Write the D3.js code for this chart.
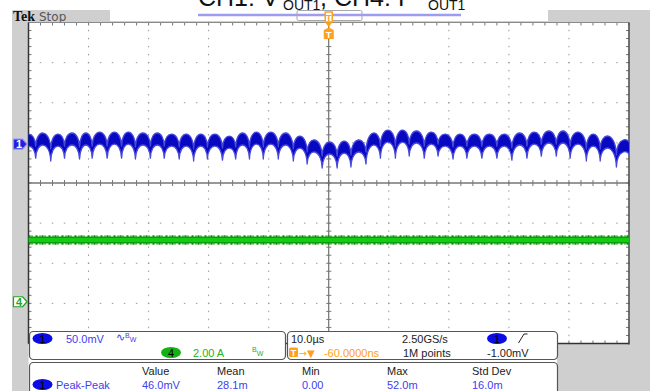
<!DOCTYPE html>
<html>
<head>
<meta charset="utf-8">
<script src="https://cdn.jsdelivr.net/npm/d3@7"></script>
<style>
  html, body { margin: 0; padding: 0; background: #fff; }
  svg { display: block; }
</style>
</head>
<body>
<svg id="scope" width="650" height="391"></svg>
<script>
// ---- Channel 1 (output voltage ripple, mV) ----
// Times of the sharp ripple dips (µs, trigger at 0) and the level at each dip.
const ch1DipTimes = [-51.2, -48.8, -46.3, -44.0, -41.5, -39.4, -36.9, -34.5, -32.2, -29.7,
  -27.4, -24.9, -22.5, -20.2, -17.7, -15.5, -13.2, -10.9, -8.4, -5.9,
  -3.6, -1.1, 1.4, 3.7, 6.2, 8.6, 11.1, 13.4, 15.9, 18.2,
  20.7, 23.0, 25.5, 28.0, 30.5, 33.0, 35.4, 37.9, 40.2, 42.9,
  45.2, 47.9, 50.2];
const ch1DipLevels = [-11.2, -10.0, -13.7, -10.0, -11.2, -10.0, -10.0, -10.0, -11.2, -10.0,
  -10.0, -11.2, -13.7, -11.2, -12.5, -11.2, -11.2, -11.2, -11.2, -13.7,
  -17.4, -22.4, -22.4, -21.2, -17.4, -10.0, -10.0, -7.5, -10.0, -7.5,
  -11.2, -10.0, -10.0, -10.0, -12.5, -10.0, -7.5, -7.5, -10.0, -13.7,
  -13.7, -21.2, -10.0];
// Crest level of each hump between two consecutive dips (mV).
const ch1CrestLevels = [5.0, 6.3, 5.0, 6.3, 6.3, 7.5, 7.5, 7.5, 6.3, 6.3,
  5.0, 5.0, 5.0, 5.0, 2.5, 6.3, 7.5, 7.5, 6.3, 2.5,
  -2.4, -4.9, -3.7, -2.4, 6.3, 10.0, 10.0, 8.8, 7.5, 5.0,
  5.0, 5.0, 5.0, 5.0, 6.3, 7.5, 8.8, 8.8, 7.5, 5.0,
  2.5, -2.4];

// ---- Channel 4 (output current, A) ----
const ch4Times = [-50, 50];
const ch4Current = [3.08, 3.08];

// ---- Vertical settings ----
const ch1VoltsPerDiv = 50;    // mV/div
const ch1Position = 0.97;     // div
const ch4AmpsPerDiv = 2;      // A/div
const ch4Position = -2.96;    // div

// ---- Readout texts ----
const titleMain = ["CH1: V", ", CH4: I"];
const titleSub = ["OUT1", "OUT1"];
const statusText = ["Tek", "Stop"];
const ch1Readout = "50.0mV";
const ch4Readout = "2.00 A";
const timebaseReadout = "10.0µs";
const triggerPosReadout = "-60.0000ns";
const sampleRateReadout = "2.50GS/s";
const recordReadout = "1M points";
const triggerLevelReadout = "-1.00mV";
const measHeaders = ["Value", "Mean", "Min", "Max", "Std Dev"];
const measName = "Peak-Peak";
const measValues = ["46.0mV", "28.1m", "0.00", "52.0m", "16.0m"];

// ---- Colours ----
const GRAY = "#cfcfcf";
const BLUE_TRACE = "#0808c0";
const BLUE_TEXT = "#4040ee";
const GREEN_TEXT = "#22b422";
const ORANGE = "#ffa11c";
const FONT = "'Liberation Sans', Arial, sans-serif";

const svg = d3.select("#scope");

// Scales: time across 10 divisions, vertical divisions -4..4
const x = d3.scaleLinear().domain([-50, 50]).range([28.5, 629]);
const yDiv = d3.scaleLinear().domain([-4, 4]).range([343.5, 22.5]);
const y1 = mv => yDiv(ch1Position + mv / ch1VoltsPerDiv);
const y4 = a => yDiv(ch4Position + a / ch4AmpsPerDiv);

const X0 = x(-50), X1 = x(50), Y0 = yDiv(4), Y1 = yDiv(-4);

// ---- Frame: gray bezel areas ----
svg.append("rect").attr("x", 0).attr("y", 0).attr("width", 650).attr("height", 391).attr("fill", "#fff");
svg.append("rect").attr("x", 12).attr("y", 10).attr("width", 638).attr("height", 12.5).attr("fill", GRAY);
svg.append("rect").attr("x", 12).attr("y", 10).attr("width", 16.5).attr("height", 381).attr("fill", GRAY);
svg.append("rect").attr("x", 629.5).attr("y", 10).attr("width", 20.5).attr("height", 381).attr("fill", GRAY);
svg.append("rect").attr("x", 557).attr("y", 344).attr("width", 93).attr("height", 47).attr("fill", GRAY);

// record view strip in the status bar
svg.append("rect").attr("x", 110).attr("y", 10).attr("width", 438).attr("height", 11).attr("fill", "#fff");
svg.append("line").attr("x1", 198).attr("x2", 461).attr("y1", 15).attr("y2", 15)
  .attr("stroke", "#9c9cf0").attr("stroke-width", 2.5);
svg.append("rect").attr("x", 297).attr("y", 10.5).attr("width", 65).attr("height", 10)
  .attr("fill", "none").attr("stroke", "#a8a8a8").attr("stroke-width", 1).attr("rx", 1.5);

// status text
svg.append("text").attr("x", 13).attr("y", 20.5).attr("font-family", "'Liberation Serif', 'Times New Roman', serif")
  .attr("font-weight", "bold").attr("font-size", 14).attr("fill", "#111").text(statusText[0]);
svg.append("text").attr("x", 39).attr("y", 20.5).attr("font-family", "'DejaVu Sans', sans-serif")
  .attr("font-size", 12).attr("fill", "#555").text(statusText[1]);

// title (runs off the top edge of the window)
const title = svg.append("g").attr("font-family", FONT).attr("fill", "#111");
title.append("text").attr("x", 198).attr("y", 6).attr("font-size", 25).text(titleMain[0]);
title.append("text").attr("x", 283).attr("y", 9.5).attr("font-size", 14).text(titleSub[0]);
title.append("text").attr("x", 320).attr("y", 6).attr("font-size", 25).text(titleMain[1]);
title.append("text").attr("x", 428).attr("y", 9.5).attr("font-size", 14).text(titleSub[1]);

// ---- Graticule ----
const grat = svg.append("g");
grat.append("rect").attr("x", X0).attr("y", Y0).attr("width", X1 - X0).attr("height", Y1 - Y0).attr("fill", "#fff");

const minorT = d3.range(-50, 50.001, 2);
const minorV = d3.range(-4, 4.001, 0.2);
const dotColor = "#9a9a9a";

// dotted vertical grid lines
d3.range(-40, 41, 10).filter(t => t !== 0).forEach(t => {
  grat.selectAll(null).data(minorV).enter().append("rect")
    .attr("x", x(t) - 0.5).attr("y", v => yDiv(v) - 0.75).attr("width", 1).attr("height", 1.5)
    .attr("fill", dotColor);
});
// dotted horizontal grid lines
d3.range(-3, 3.001, 1).filter(v => v !== 0).forEach(v => {
  grat.selectAll(null).data(minorT).enter().append("rect")
    .attr("x", t => x(t) - 0.75).attr("y", yDiv(v) - 0.5).attr("width", 1.5).attr("height", 1)
    .attr("fill", dotColor);
});

// centre cross
grat.append("line").attr("x1", X0).attr("x2", X1).attr("y1", yDiv(0)).attr("y2", yDiv(0))
  .attr("stroke", "#333").attr("stroke-width", 1);
grat.selectAll(null).data(minorT).enter().append("line")
  .attr("x1", t => x(t)).attr("x2", t => x(t)).attr("y1", yDiv(0) - 3).attr("y2", yDiv(0) + 3)
  .attr("stroke", "#777").attr("stroke-width", 1);
grat.append("line").attr("x1", x(0)).attr("x2", x(0)).attr("y1", Y0).attr("y2", Y1)
  .attr("stroke", "#555").attr("stroke-width", 1);
grat.selectAll(null).data(minorV).enter().append("line")
  .attr("x1", x(0) - 2.5).attr("x2", x(0) + 2.5).attr("y1", v => yDiv(v)).attr("y2", v => yDiv(v))
  .attr("stroke", "#777").attr("stroke-width", 1);

// border ticks
grat.selectAll(null).data(minorT).enter().append("line")
  .attr("x1", t => x(t)).attr("x2", t => x(t)).attr("y1", Y0).attr("y2", Y0 + 3)
  .attr("stroke", "#777");
grat.selectAll(null).data(minorV).enter().append("line")
  .attr("x1", X0).attr("x2", X0 + 3).attr("y1", v => yDiv(v)).attr("y2", v => yDiv(v))
  .attr("stroke", "#777");
grat.selectAll(null).data(minorV).enter().append("line")
  .attr("x1", X1 - 3).attr("x2", X1).attr("y1", v => yDiv(v)).attr("y2", v => yDiv(v))
  .attr("stroke", "#777");
grat.selectAll(null).data(minorT).enter().append("line")
  .attr("x1", t => x(t)).attr("x2", t => x(t)).attr("y1", Y1 - 3).attr("y2", Y1)
  .attr("stroke", "#777");

// border
grat.append("line").attr("x1", X0).attr("x2", X1).attr("y1", Y0).attr("y2", Y0).attr("stroke", "#8a8a8a");
grat.append("line").attr("x1", X0).attr("x2", X0).attr("y1", Y0).attr("y2", Y1).attr("stroke", "#333").attr("stroke-width", 1.5);
grat.append("line").attr("x1", X1).attr("x2", X1).attr("y1", Y0).attr("y2", Y1 + 1).attr("stroke", "#444").attr("stroke-width", 1.5);
grat.append("line").attr("x1", X0).attr("x2", X1).attr("y1", Y1).attr("y2", Y1).attr("stroke", "#333").attr("stroke-width", 1.5);

// ---- Traces ----
svg.append("clipPath").attr("id", "screen").append("rect")
  .attr("x", X0).attr("y", Y0).attr("width", X1 - X0).attr("height", Y1 - Y0);
const traces = svg.append("g").attr("clip-path", "url(#screen)");

// Channel 4: flat current band
const line4 = d3.line().x(d => x(d[0])).y(d => y4(d[1]));
const ch4Data = d3.zip(ch4Times, ch4Current);
traces.append("path").attr("d", line4(ch4Data)).attr("fill", "none")
  .attr("stroke", "#0d8a0d").attr("stroke-width", 9.5).attr("stroke-dasharray", "2 1 1 3 2 2 1 1");
traces.append("path").attr("d", line4(ch4Data)).attr("fill", "none")
  .attr("stroke", "#0a9e0a").attr("stroke-width", 7);
traces.append("path").attr("d", line4(ch4Data)).attr("fill", "none")
  .attr("stroke", "#14cc14").attr("stroke-width", 4);

// Channel 1: scalloped ripple. Each hump is a cubic from dip to dip; the noise
// band is the area between the curve shifted up and down by half its height.
const BAND = 6;        // half band height, px
const SHOULDER = 0.05; // control point spacing as a fraction of the hump width
function humpControls(i) {
  const t0 = ch1DipTimes[i], t1 = ch1DipTimes[i + 1];
  const d0 = ch1DipLevels[i], d1 = ch1DipLevels[i + 1];
  const c = (8 * ch1CrestLevels[i] - d0 - d1) / 6;
  const dt = t1 - t0;
  return { xa: x(t0 + SHOULDER * dt), xb: x(t1 - SHOULDER * dt), yc: y1(c) };
}
function ripplePath() {
  const p = d3.path();
  const n = ch1CrestLevels.length;
  p.moveTo(x(ch1DipTimes[0]), y1(ch1DipLevels[0]) - BAND);
  for (let i = 0; i < n; i++) {
    const k = humpControls(i);
    p.bezierCurveTo(k.xa, k.yc - BAND, k.xb, k.yc - BAND, x(ch1DipTimes[i + 1]), y1(ch1DipLevels[i + 1]) - BAND);
  }
  p.lineTo(x(ch1DipTimes[n]), y1(ch1DipLevels[n]) + BAND);
  for (let i = n - 1; i >= 0; i--) {
    const k = humpControls(i);
    p.bezierCurveTo(k.xb, k.yc + BAND, k.xa, k.yc + BAND, x(ch1DipTimes[i]), y1(ch1DipLevels[i]) + BAND);
  }
  p.closePath();
  return p.toString();
}
traces.append("path").attr("d", ripplePath()).attr("fill", BLUE_TRACE)
  .attr("stroke", "#4848dc").attr("stroke-width", 1.3).attr("stroke-linejoin", "round");

// ---- Channel markers ----
function marker(yc, fill, stroke, label, textFill) {
  const g = svg.append("g");
  g.append("path")
    .attr("d", `M13.5,${yc - 5} L22.5,${yc - 5} L27,${yc} L22.5,${yc + 5} L13.5,${yc + 5} Z`)
    .attr("fill", fill).attr("stroke", stroke).attr("stroke-width", 1.2).attr("stroke-linejoin", "round");
  g.append("text").attr("x", 19).attr("y", yc + 4).attr("text-anchor", "middle")
    .attr("font-family", FONT).attr("font-weight", "bold").attr("font-size", 11)
    .attr("fill", textFill).text(label);
}
marker(y1(0), "#2020dc", "#8c8cff", "1", "#fff");
marker(y4(0), "#fff", "#22a422", "4", "#22a422");

// ---- Trigger position markers ----
const tx = x(0);
svg.append("rect").attr("x", tx - 3.5).attr("y", 12).attr("width", 7).attr("height", 10)
  .attr("fill", "#fff").attr("stroke", ORANGE).attr("stroke-width", 1.5);
svg.append("text").attr("x", tx).attr("y", 20.5).attr("text-anchor", "middle").attr("font-family", FONT)
  .attr("font-weight", "bold").attr("font-size", 9).attr("fill", ORANGE).text("T");
svg.append("path").attr("d", `M${tx - 3.5},22.5 L${tx + 3.5},22.5 L${tx},27 Z`).attr("fill", ORANGE);
svg.append("path").attr("d", `M${tx - 5},30 L${tx},27.5 L${tx + 5},30 L${tx + 5},39 L${tx - 5},39 Z`)
  .attr("fill", ORANGE);
svg.append("text").attr("x", tx).attr("y", 37.5).attr("text-anchor", "middle").attr("font-family", FONT)
  .attr("font-weight", "bold").attr("font-size", 9.5).attr("fill", "#fff").text("T");

// ---- Readout boxes ----
const info = svg.append("g").attr("font-family", FONT).attr("font-size", 11);
function box(x0, y0, w, h) {
  info.append("rect").attr("x", x0).attr("y", y0).attr("width", w).attr("height", h).attr("rx", 4)
    .attr("fill", "#fff").attr("stroke", "#555").attr("stroke-width", 1.2);
}
box(29.5, 331.5, 256, 28);
box(287.5, 331.5, 270, 28);
box(29.5, 362.5, 528, 40);

function pill(cx, cy, fill, label) {
  info.append("ellipse").attr("cx", cx).attr("cy", cy).attr("rx", 10).attr("ry", 5.5).attr("fill", fill);
  info.append("text").attr("x", cx).attr("y", cy + 4).attr("text-anchor", "middle")
    .attr("font-size", 11).attr("fill", "#000").text(label);
}

// channel 1 / channel 4 scale readouts
pill(42.5, 338.5, "#0c0ce6", "1");
info.append("text").attr("x", 66).attr("y", 342.5).attr("fill", BLUE_TEXT).text(ch1Readout);
const bw1 = info.append("text").attr("x", 116).attr("y", 341).attr("fill", BLUE_TEXT);
bw1.append("tspan").attr("font-size", 11).text("∿");
bw1.append("tspan").attr("font-size", 7).attr("dy", -3).text("B");
bw1.append("tspan").attr("font-size", 7).attr("dy", 4).text("W");
pill(171, 352.5, "#14b014", "4");
info.append("text").attr("x", 193).attr("y", 356.5).attr("fill", GREEN_TEXT).text(ch4Readout);
const bw4 = info.append("text").attr("x", 252).attr("y", 355).attr("fill", GREEN_TEXT);
bw4.append("tspan").attr("font-size", 7).attr("dy", -3).text("B");
bw4.append("tspan").attr("font-size", 7).attr("dy", 4).text("W");

// timebase / acquisition / trigger readouts
info.append("text").attr("x", 291).attr("y", 342.5).attr("fill", "#222").text(timebaseReadout);
info.append("rect").attr("x", 289).attr("y", 347.5).attr("width", 9).attr("height", 9.5).attr("rx", 1.5).attr("fill", ORANGE);
info.append("text").attr("x", 293.5).attr("y", 355.5).attr("text-anchor", "middle").attr("font-weight", "bold")
  .attr("font-size", 9).attr("fill", "#fff").text("T");
info.append("text").attr("x", 298.5).attr("y", 356.5).attr("fill", ORANGE).attr("font-family", "'DejaVu Sans', sans-serif")
  .attr("font-size", 10).text("→▼");
info.append("text").attr("x", 379).attr("y", 356.5).attr("text-anchor", "end").attr("fill", ORANGE).text(triggerPosReadout);
info.append("text").attr("x", 402).attr("y", 342.5).attr("fill", "#222").text(sampleRateReadout);
info.append("text").attr("x", 403).attr("y", 356.5).attr("fill", "#222").text(recordReadout);
pill(497, 338.5, "#0c0ce6", "1");
info.append("path").attr("d", "M518.5,343 L524,334 L527.5,334").attr("fill", "none").attr("stroke", "#222").attr("stroke-width", 1);
info.append("text").attr("x", 487).attr("y", 356.5).attr("fill", "#222").text(triggerLevelReadout);

// measurement table
const colX = [142, 217, 302, 387, 472];
info.selectAll(null).data(measHeaders).enter().append("text")
  .attr("x", (d, i) => colX[i]).attr("y", 375).attr("fill", "#222").text(d => d);
pill(42.5, 384.5, "#0c0ce6", "1");
info.append("text").attr("x", 56).attr("y", 388.5).attr("fill", BLUE_TEXT).text(measName);
info.selectAll(null).data(measValues).enter().append("text")
  .attr("x", (d, i) => colX[i]).attr("y", 388.5).attr("fill", BLUE_TEXT).text(d => d);
</script>
</body>
</html>
